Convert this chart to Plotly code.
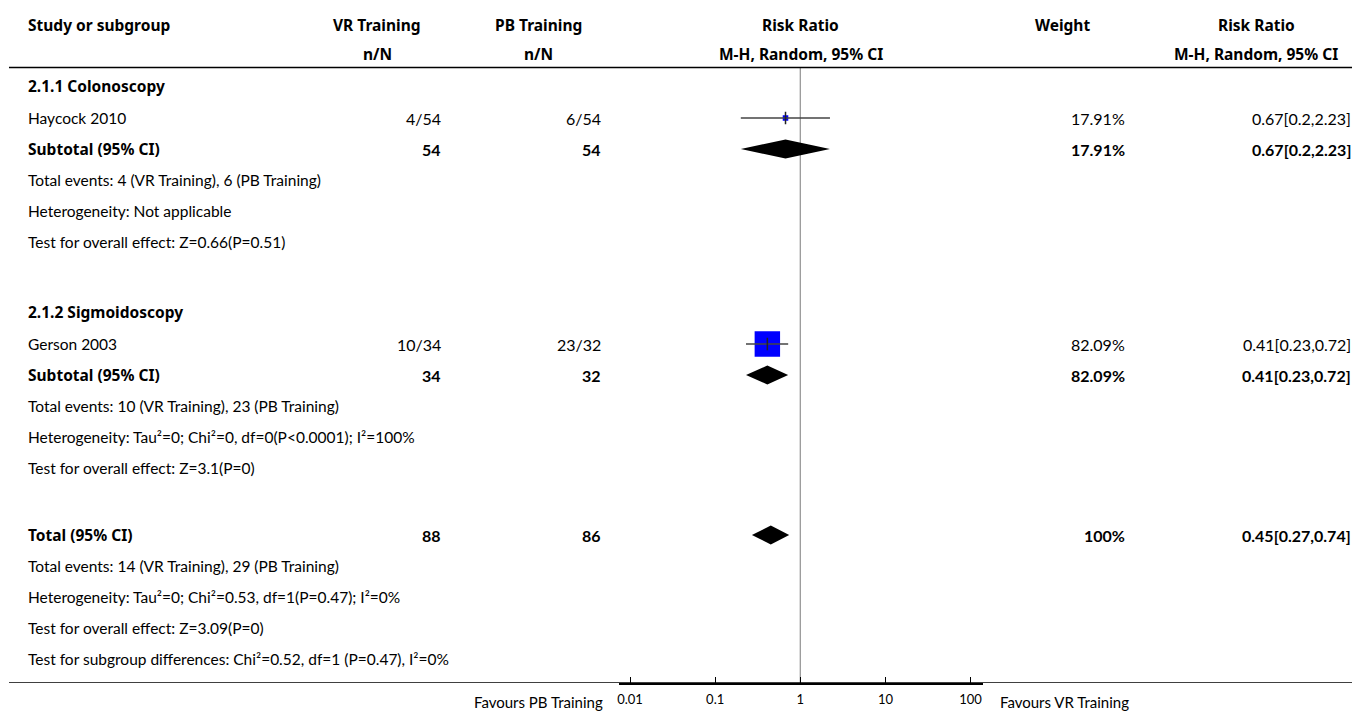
import plotly.graph_objects as go

# ---------------- data ----------------
study_names = ["Haycock 2010", "Gerson 2003"]
vr_events = [4, 10]
vr_totals = [54, 34]
pb_events = [6, 23]
pb_totals = [54, 32]
study_rr = [0.67, 0.41]
study_lo = [0.2, 0.23]
study_hi = [2.23, 0.72]
study_weight = [17.91, 82.09]

subgroup_names = ["2.1.1 Colonoscopy", "2.1.2 Sigmoidoscopy"]
sub_vr_n = [54, 34]
sub_pb_n = [54, 32]
sub_rr = [0.67, 0.41]
sub_lo = [0.2, 0.23]
sub_hi = [2.23, 0.72]
sub_weight = [17.91, 82.09]
sub_events_text = ["Total events: 4 (VR Training), 6 (PB Training)",
                   "Total events: 10 (VR Training), 23 (PB Training)"]
sub_het_text = ["Heterogeneity: Not applicable",
                "Heterogeneity: Tau\u00b2=0; Chi\u00b2=0, df=0(P<0.0001); I\u00b2=100%"]
sub_effect_text = ["Test for overall effect: Z=0.66(P=0.51)",
                   "Test for overall effect: Z=3.1(P=0)"]

total_vr_n = 88
total_pb_n = 86
total_rr = 0.45
total_lo = 0.27
total_hi = 0.74
total_weight = 100
total_notes = ["Total events: 14 (VR Training), 29 (PB Training)",
               "Heterogeneity: Tau\u00b2=0; Chi\u00b2=0.53, df=1(P=0.47); I\u00b2=0%",
               "Test for overall effect: Z=3.09(P=0)",
               "Test for subgroup differences: Chi\u00b2=0.52, df=1 (P=0.47), I\u00b2=0%"]

tick_vals = [0.01, 0.1, 1, 10, 100]
tick_text = ["0.01", "0.1", "1", "10", "100"]
left_label = "Favours PB Training"
right_label = "Favours VR Training"

# ---------------- layout helpers ----------------
W, H = 1359, 711
FONT = "Lato"
BFONT = "Noto Sans"
FS = 15.5
NFS = 16
BFS = 15.5
AX_Y = 683  # pixel y of the axis line

fig = go.Figure()
ann = []


def px(x):
    return x / W


def text(x, y, s, anchor="left", bold=False, size=None, family=None, yref="y"):
    if bold:
        s = "<b>" + s + "</b>"
    if family is None:
        family = BFONT if bold else FONT
    if size is None:
        size = BFS if bold else FS
    ann.append(dict(x=px(x), y=y, xref="paper", yref=yref, text=s, showarrow=False,
                    xanchor=anchor, yanchor="middle",
                    font=dict(family=family, size=size, color="#000")))


def num(x, y, s, bold=False):
    # numeric cells: right aligned, Lato
    text(x, y, s, "right", bold, size=NFS, family=FONT)


def fmt_ci(r, lo, hi):
    return f"{r:g}[{lo:g},{hi:g}]"


def diamond(y, lo, r, hi, h=9.5):
    fig.add_trace(go.Scatter(x=[lo, r, hi, r, lo], y=[y, y - h, y, y + h, y],
                             fill="toself", fillcolor="#000", mode="lines",
                             line=dict(width=0, color="#000"), hoverinfo="skip",
                             showlegend=False))


def study_row(y, i):
    size = study_weight[i] * 0.31
    fig.add_trace(go.Scatter(x=[study_rr[i]], y=[y], mode="markers",
                             marker=dict(symbol="square", size=size, color="#0000ff",
                                         line=dict(width=0)),
                             showlegend=False, hoverinfo="skip"))
    fig.add_trace(go.Scatter(x=[study_lo[i], study_hi[i]], y=[y, y], mode="lines",
                             line=dict(color="#444", width=1.5), showlegend=False,
                             hoverinfo="skip"))
    fig.add_trace(go.Scatter(x=[study_rr[i]], y=[y], mode="markers",
                             marker=dict(symbol="line-ns", size=9,
                                         line=dict(color="#222", width=1.5)),
                             showlegend=False, hoverinfo="skip"))


# column positions (pixels)
COL_STUDY = 24
VR_C, VR_R = 376, 442
PB_C, PB_R = 537, 602
RR_C = 800
WT_C, WT_R = 1062, 1127
RR2_C, RR2_R = 1256, 1353

text(COL_STUDY, 25, "Study or subgroup", bold=True)
text(VR_C, 25, "VR Training", "center", True)
text(VR_C, 54, "n/N", "center", True)
text(PB_C, 25, "PB Training", "center", True)
text(PB_C, 54, "n/N", "center", True)
text(RR_C, 25, "Risk Ratio", "center", True)
text(RR_C, 54, "M-H, Random, 95% CI", "center", True)
text(WT_C, 25, "Weight", "center", True)
text(RR2_C, 25, "Risk Ratio", "center", True)
text(RR2_C, 54, "M-H, Random, 95% CI", "center", True)

group_y = [86, 312]
for g in range(2):
    y0 = group_y[g]
    text(COL_STUDY, y0, subgroup_names[g], bold=True)
    ys = y0 + 32
    text(COL_STUDY, ys, study_names[g])
    num(VR_R, ys, f"{vr_events[g]}/{vr_totals[g]}")
    num(PB_R, ys, f"{pb_events[g]}/{pb_totals[g]}")
    num(WT_R, ys, f"{study_weight[g]:.2f}%")
    num(RR2_R, ys, fmt_ci(study_rr[g], study_lo[g], study_hi[g]))
    study_row(ys, g)
    yt = y0 + 63
    text(COL_STUDY, yt, "Subtotal (95% CI)", bold=True)
    num(VR_R, yt, str(sub_vr_n[g]), True)
    num(PB_R, yt, str(sub_pb_n[g]), True)
    num(WT_R, yt, f"{sub_weight[g]:.2f}%", True)
    num(RR2_R, yt, fmt_ci(sub_rr[g], sub_lo[g], sub_hi[g]), True)
    diamond(yt, sub_lo[g], sub_rr[g], sub_hi[g])
    text(COL_STUDY, y0 + 94, sub_events_text[g])
    text(COL_STUDY, y0 + 125, sub_het_text[g])
    text(COL_STUDY, y0 + 156, sub_effect_text[g])

yT = 535
text(COL_STUDY, yT, "Total (95% CI)", bold=True)
num(VR_R, yT, str(total_vr_n), True)
num(PB_R, yT, str(total_pb_n), True)
num(WT_R, yT, f"{total_weight:g}%", True)
num(RR2_R, yT, fmt_ci(total_rr, total_lo, total_hi), True)
diamond(yT, total_lo, total_rr, total_hi)
for k, s in enumerate(total_notes):
    text(COL_STUDY, yT + 31 * (k + 1), s)

text(604, (H - 702) / H, left_label, "right", size=15, yref="paper")
text(997, (H - 702) / H, right_label, "left", size=15, yref="paper")

shapes = [
    dict(type="line", xref="paper", yref="y", x0=px(7), x1=px(1352), y0=67.5, y1=67.5,
         line=dict(color="#000", width=1.5)),
    dict(type="line", xref="paper", yref="y", x0=px(7), x1=px(1352), y0=AX_Y, y1=AX_Y,
         line=dict(color="#000", width=1.5)),
    dict(type="line", xref="x", yref="y", x0=1, x1=1, y0=67.5, y1=AX_Y,
         line=dict(color="#999", width=1.3), layer="below"),
]

fig.update_layout(
    width=W, height=H, margin=dict(l=0, r=0, t=0, b=0),
    paper_bgcolor="white", plot_bgcolor="rgba(0,0,0,0)",
    annotations=ann, shapes=shapes,
    xaxis=dict(type="log", domain=[px(618), px(982)], range=[-2.129, 2.141],
               tickvals=tick_vals, ticktext=tick_text, ticks="inside", ticklen=6,
               tickwidth=1, tickcolor="#000", showline=True, linecolor="#000",
               linewidth=1.5, showgrid=False, zeroline=False, fixedrange=True,
               ticklabelstandoff=4,
               tickfont=dict(family=FONT, size=13, color="#000")),
    yaxis=dict(domain=[(H - AX_Y) / H, 1], range=[AX_Y, 0], visible=False,
               fixedrange=True),
    showlegend=False,
)

fig.write_html("out.html",
               config={"displayModeBar": False},
               post_script="document.body.style.margin='0px';"
                           "document.body.style.overflow='hidden';")
